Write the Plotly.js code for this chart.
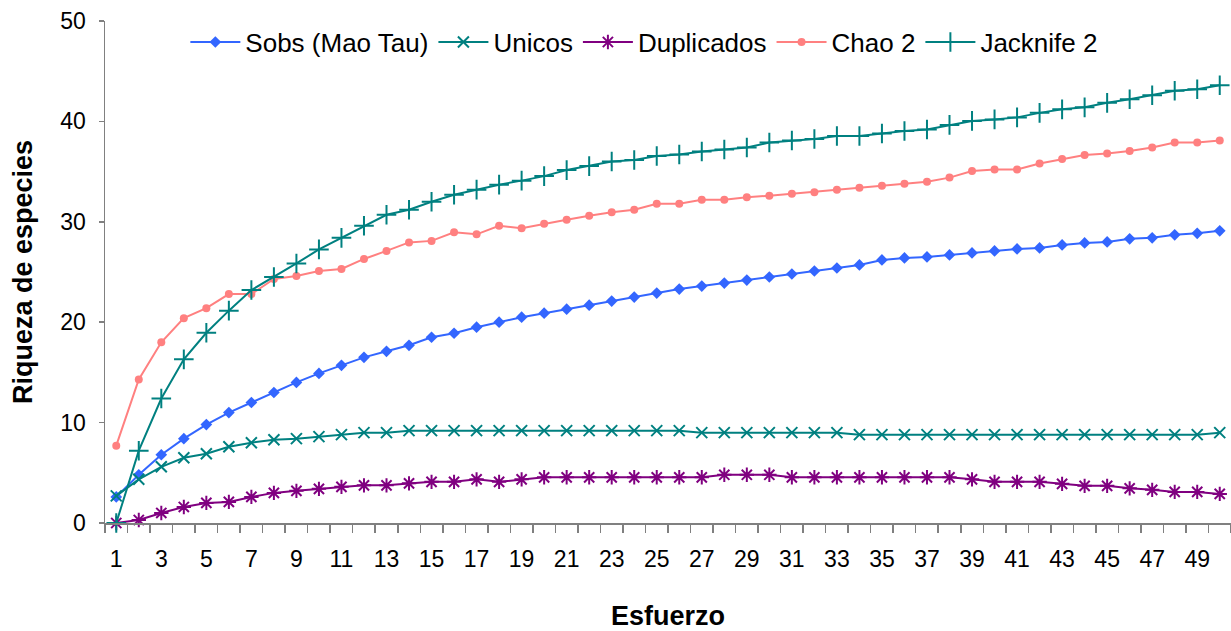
<!DOCTYPE html>
<html>
<head>
<meta charset="utf-8">
<script src="https://cdn.plot.ly/plotly-3.0.1.min.js"></script>
<style>
  html, body { margin: 0; padding: 0; background: #ffffff; }
  #chart { width: 1231px; height: 631px; }
</style>
</head>
<body>
<div id="chart"></div>
<script>
// Esfuerzo (sampling effort) categories
const esfuerzo = [1,2,3,4,5,6,7,8,9,10,11,12,13,14,15,16,17,18,19,20,21,22,23,24,25,26,27,28,29,30,31,32,33,34,35,36,37,38,39,40,41,42,43,44,45,46,47,48,49,50];
const tickLabels = ["1","3","5","7","9","11","13","15","17","19","21","23","25","27","29","31","33","35","37","39","41","43","45","47","49"];
const tickPositions = [1,3,5,7,9,11,13,15,17,19,21,23,25,27,29,31,33,35,37,39,41,43,45,47,49];

const sobs = [2.6,4.8,6.8,8.4,9.8,11.0,12.0,13.0,14.0,14.9,15.7,16.5,17.1,17.7,18.5,18.9,19.5,20.0,20.5,20.9,21.3,21.7,22.1,22.5,22.9,23.3,23.6,23.9,24.2,24.5,24.8,25.1,25.4,25.7,26.2,26.4,26.5,26.7,26.9,27.1,27.3,27.4,27.7,27.9,28.0,28.3,28.4,28.7,28.85,29.1];
const unicos = [2.7,4.35,5.6,6.5,6.9,7.6,8.0,8.3,8.4,8.6,8.8,9.0,9.0,9.2,9.2,9.2,9.2,9.2,9.2,9.2,9.2,9.2,9.2,9.2,9.2,9.2,9.0,9.0,9.0,9.0,9.0,9.0,9.0,8.8,8.8,8.8,8.8,8.8,8.8,8.8,8.8,8.8,8.8,8.8,8.8,8.8,8.8,8.8,8.8,9.0];
const duplicados = [0,0.3,1.0,1.6,2.0,2.1,2.6,3.0,3.2,3.4,3.6,3.75,3.75,3.95,4.1,4.1,4.35,4.1,4.35,4.55,4.55,4.55,4.55,4.55,4.55,4.55,4.55,4.8,4.8,4.8,4.55,4.55,4.55,4.55,4.55,4.55,4.55,4.55,4.35,4.1,4.1,4.1,3.9,3.7,3.7,3.45,3.3,3.1,3.1,2.9];
const chao2 = [7.7,14.3,18.0,20.4,21.4,22.8,22.8,24.3,24.6,25.1,25.3,26.3,27.1,27.95,28.1,28.95,28.75,29.6,29.35,29.8,30.2,30.6,30.95,31.2,31.8,31.8,32.2,32.2,32.45,32.6,32.8,32.95,33.2,33.4,33.6,33.8,34.0,34.4,35.05,35.2,35.2,35.8,36.25,36.65,36.8,37.05,37.4,37.9,37.9,38.1];
const jacknife2 = [0,7.2,12.4,16.3,18.95,21.15,23.2,24.5,25.85,27.25,28.4,29.6,30.7,31.2,32.0,32.7,33.2,33.7,34.1,34.55,35.15,35.55,36.0,36.15,36.55,36.7,37.0,37.2,37.4,37.9,38.1,38.25,38.55,38.55,38.8,39.05,39.2,39.65,40.05,40.2,40.4,40.85,41.2,41.4,41.85,42.2,42.6,43.05,43.2,43.6];

const regular = 'Arial, "Liberation Sans", sans-serif';

function trace(name, y, color, symbol, size, lw) {
  return {
    x: esfuerzo, y: y, name: name, type: 'scatter', mode: 'lines+markers',
    cliponaxis: false,
    line: {color: color, width: 2},
    marker: {symbol: symbol, size: size, color: color, line: {color: color, width: lw}}
  };
}

const data = [
  trace('Sobs (Mao Tau)', sobs, '#3366FF', 'diamond', 9, 0),
  trace('Unicos', unicos, '#008080', 'x-thin-open', 11, 2),
  trace('Duplicados', duplicados, '#800080', 'asterisk-open', 12, 2),
  trace('Chao 2', chao2, '#FF8080', 'circle', 8, 0),
  trace('Jacknife 2', jacknife2, '#008080', 'cross-thin-open', 14, 2)
];

const layout = {
  width: 1231, height: 631,
  margin: {l: 105, r: 0, t: 21, b: 108},
  paper_bgcolor: '#ffffff', plot_bgcolor: '#ffffff',
  showlegend: true,
  legend: {
    orientation: 'h', x: 0.479, xanchor: 'center', y: 0.958, yanchor: 'middle',
    font: {family: regular, size: 26, color: '#000000'},
    itemwidth: 50, bgcolor: 'rgba(0,0,0,0)'
  },
  xaxis: {
    range: [0.5, 50.5], showgrid: false, zeroline: false,
    showline: true, linecolor: '#808080', linewidth: 1.5,
    tickmode: 'array', tickvals: tickPositions, ticktext: tickLabels,
    ticks: 'outside', ticklen: 15, tickcolor: 'rgba(0,0,0,0)',
    tickfont: {family: regular, size: 23, color: '#000000'},
    minor: {tick0: 0.5, dtick: 1, ticks: 'outside', ticklen: 8, tickcolor: '#808080', tickwidth: 1.5, showgrid: false},
    title: {text: '<b>Esfuerzo</b>', font: {family: regular, size: 27, color: '#000000'}, standoff: 37}
  },
  yaxis: {
    range: [0, 50], showgrid: false, zeroline: false,
    showline: true, linecolor: '#808080', linewidth: 1.5,
    tickmode: 'linear', tick0: 0, dtick: 10,
    ticks: 'outside', ticklen: 5, tickcolor: '#808080', tickwidth: 1.5,
    ticklabelstandoff: 8,
    tickfont: {family: regular, size: 23, color: '#000000'},
    title: {text: '<b>Riqueza de especies</b>', font: {family: regular, size: 27, color: '#000000'}, standoff: 20}
  }
};

Plotly.newPlot('chart', data, layout, {displayModeBar: false, staticPlot: true});
</script>
</body>
</html>
